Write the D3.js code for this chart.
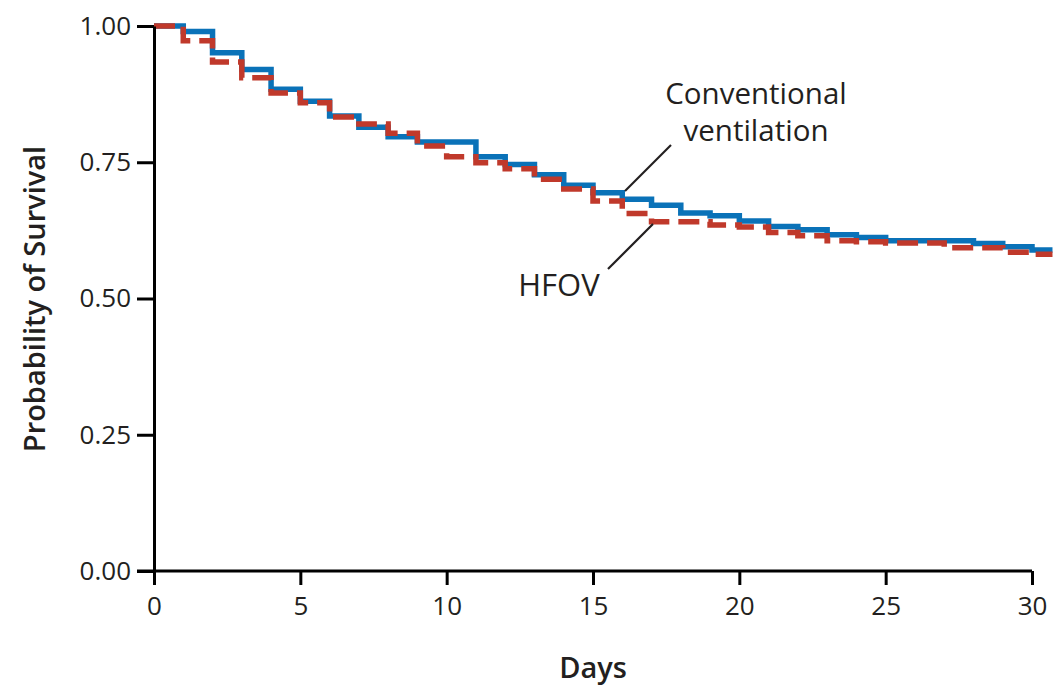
<!DOCTYPE html>
<html>
<head>
<meta charset="utf-8">
<script src="https://d3js.org/d3.v7.min.js"></script>
<style>
  body { margin: 0; background: #fff; }
  svg text { font-family: "Open Sans", "Noto Sans", sans-serif; fill: #231f20; }
</style>
</head>
<body>
<svg width="1053" height="686"></svg>
<script>
// step curve data (day, survival probability)
var convDays   = [0, 1, 2, 3, 4, 5, 6, 7, 8, 9, 11, 12, 13, 14, 15, 16, 17, 18, 19, 20, 21, 22, 23, 24, 25, 28, 29, 30, 30.7];
var convValues = [1.00, 0.990, 0.951, 0.920, 0.884, 0.862, 0.835, 0.814, 0.797, 0.787, 0.760, 0.746, 0.727, 0.708, 0.694, 0.682, 0.671, 0.657, 0.652, 0.642, 0.632, 0.626, 0.617, 0.612, 0.606, 0.601, 0.595, 0.589, 0.589];
var hfovDays   = [0, 1, 2, 3, 4, 5, 6, 7, 8, 9, 10, 11, 12, 13, 14, 15, 16, 17, 19, 20, 21, 22, 23, 24, 25, 27, 29, 30, 30.7];
var hfovValues = [1.00, 0.973, 0.934, 0.905, 0.877, 0.859, 0.833, 0.820, 0.803, 0.780, 0.760, 0.749, 0.738, 0.719, 0.701, 0.679, 0.656, 0.641, 0.635, 0.631, 0.621, 0.615, 0.606, 0.604, 0.602, 0.593, 0.585, 0.581, 0.581];
var xTicks = [0, 5, 10, 15, 20, 25, 30];
var yTicks = [0, 0.25, 0.50, 0.75, 1.00];

var svg = d3.select("svg");
var x = d3.scaleLinear().domain([0, 30]).range([154, 1032]);
var y = d3.scaleLinear().domain([0, 1]).range([571, 26]);

var line = d3.line()
    .x(function(d) { return x(d[0]); })
    .y(function(d) { return y(d[1]); })
    .curve(d3.curveStepAfter);

var conv = d3.zip(convDays, convValues);
var hfov = d3.zip(hfovDays, hfovValues);

// curves
svg.append("path")
    .datum(conv)
    .attr("d", line)
    .attr("fill", "none")
    .attr("stroke", "#0a72b8")
    .attr("stroke-width", 5.5);
svg.append("path")
    .datum(hfov)
    .attr("d", line)
    .attr("fill", "none")
    .attr("stroke", "#c0392b")
    .attr("stroke-width", 5.5)
    .attr("stroke-dasharray", "21,9");

// y axis
var yAxis = svg.append("g")
    .attr("transform", "translate(154,0)")
    .call(d3.axisLeft(y).tickValues(yTicks).tickFormat(d3.format(".2f")).tickSize(17).tickSizeOuter(0).tickPadding(6));
// x axis
var xAxis = svg.append("g")
    .attr("transform", "translate(0,571)")
    .call(d3.axisBottom(x).tickValues(xTicks).tickSize(14).tickSizeOuter(0).tickPadding(12));
xAxis.select(".domain").remove();
svg.append("line")
    .attr("x1", x(0) - 17).attr("x2", x(30))
    .attr("y1", y(0)).attr("y2", y(0))
    .attr("stroke", "#000").attr("stroke-width", 3);

svg.selectAll(".tick line").attr("stroke", "#000").attr("stroke-width", 3);
yAxis.select(".domain").attr("stroke", "#000").attr("stroke-width", 3);
svg.selectAll(".tick text")
    .style("font-family", "'Open Sans', 'Noto Sans', sans-serif")
    .style("font-size", "26px")
    .style("fill", "#231f20");

// axis titles
svg.append("text")
    .attr("transform", "translate(45,299) rotate(-90)")
    .attr("text-anchor", "middle")
    .style("font-size", "29px")
    .style("font-weight", "600")
    .text("Probability of Survival");
svg.append("text")
    .attr("x", 593).attr("y", 678)
    .attr("text-anchor", "middle")
    .style("font-size", "29px")
    .style("font-weight", "600")
    .text("Days");

// annotations
svg.append("text").attr("x", 756).attr("y", 104).attr("text-anchor", "middle")
    .style("font-size", "29.5px").text("Conventional");
svg.append("text").attr("x", 756).attr("y", 141).attr("text-anchor", "middle")
    .style("font-size", "29.5px").text("ventilation");
svg.append("line").attr("x1", 671).attr("y1", 145).attr("x2", 625).attr("y2", 191)
    .attr("stroke", "#231f20").attr("stroke-width", 2.2);
svg.append("text").attr("x", 559).attr("y", 296).attr("text-anchor", "middle")
    .style("font-size", "31px").text("HFOV");
svg.append("line").attr("x1", 653).attr("y1", 224).attr("x2", 608).attr("y2", 269)
    .attr("stroke", "#231f20").attr("stroke-width", 2.2);
</script>
</body>
</html>
